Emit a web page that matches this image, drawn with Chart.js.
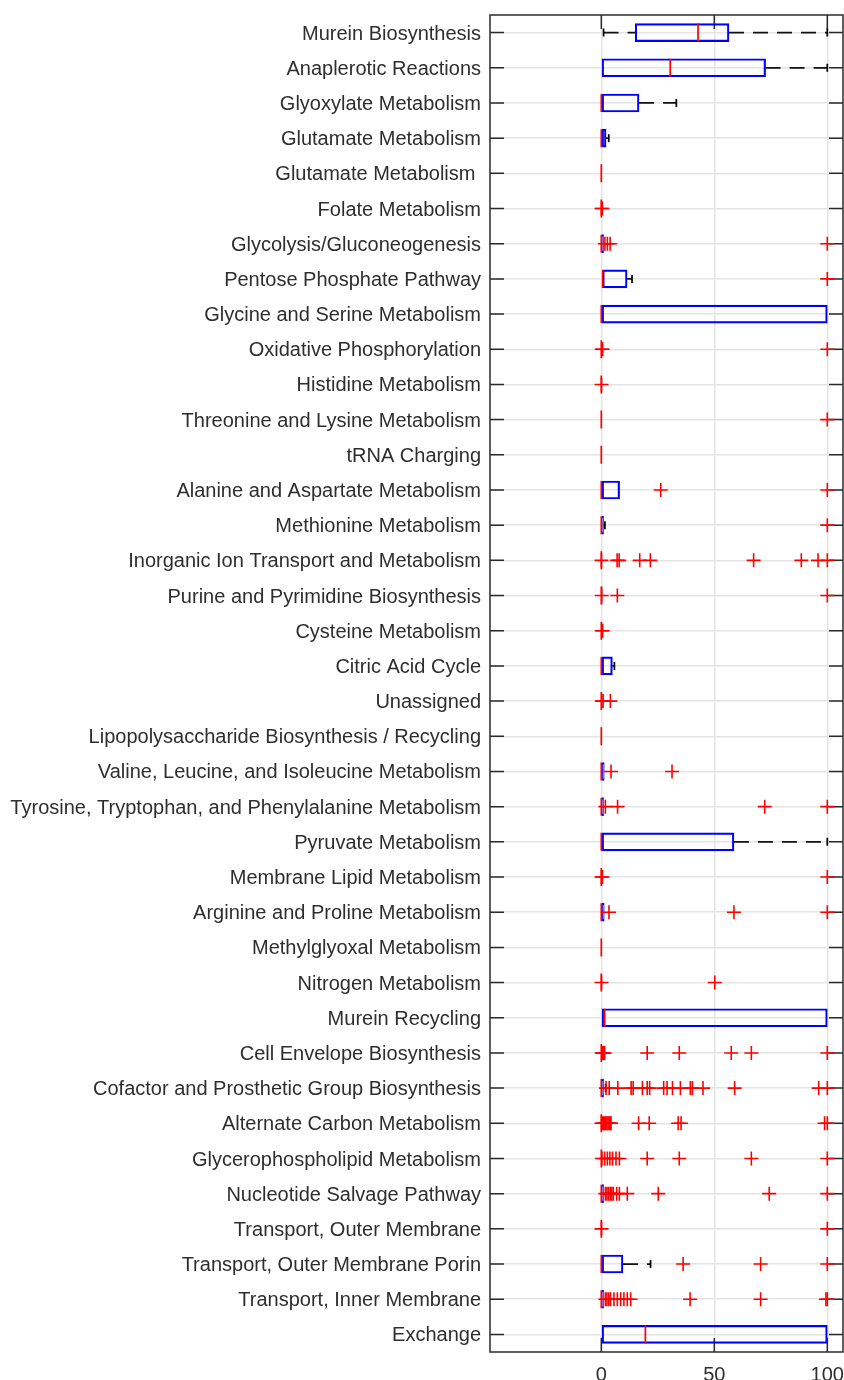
<!DOCTYPE html>
<html>
<head>
<meta charset="utf-8">
<script src="https://cdn.jsdelivr.net/npm/chart.js@4.4.1/dist/chart.umd.min.js"></script>
<style>
  html, body { margin: 0; padding: 0; background: #fff; }
  #wrap { width: 844px; height: 1380px; }
</style>
</head>
<body>
<div id="wrap"><canvas id="cv_box" width="844" height="1380"></canvas></div>
<script>
const categories = [
    'Murein Biosynthesis',
    'Anaplerotic Reactions',
    'Glyoxylate Metabolism',
    'Glutamate Metabolism',
    'Glutamate Metabolism ',
    'Folate Metabolism',
    'Glycolysis/Gluconeogenesis',
    'Pentose Phosphate Pathway',
    'Glycine and Serine Metabolism',
    'Oxidative Phosphorylation',
    'Histidine Metabolism',
    'Threonine and Lysine Metabolism',
    'tRNA Charging',
    'Alanine and Aspartate Metabolism',
    'Methionine Metabolism',
    'Inorganic Ion Transport and Metabolism',
    'Purine and Pyrimidine Biosynthesis',
    'Cysteine Metabolism',
    'Citric Acid Cycle',
    'Unassigned',
    'Lipopolysaccharide Biosynthesis / Recycling',
    'Valine, Leucine, and Isoleucine Metabolism',
    'Tyrosine, Tryptophan, and Phenylalanine Metabolism',
    'Pyruvate Metabolism',
    'Membrane Lipid Metabolism',
    'Arginine and Proline Metabolism',
    'Methylglyoxal Metabolism',
    'Nitrogen Metabolism',
    'Murein Recycling',
    'Cell Envelope Biosynthesis',
    'Cofactor and Prosthetic Group Biosynthesis',
    'Alternate Carbon Metabolism',
    'Glycerophospholipid Metabolism',
    'Nucleotide Salvage Pathway',
    'Transport, Outer Membrane',
    'Transport, Outer Membrane Porin',
    'Transport, Inner Membrane',
    'Exchange'
];

// box statistics, one entry per category
const whiskerLow  = [1, 0, 0, 0, 0, 0, 0, 0.6, 0, 0, 0, 0, 0, 0, 0, 0, 0, 0, 0, 0, 0, 0, 0, 0, 0, 0, 0, 0, 0, 0, 0, 0, 0, 0, 0, 0, 0, 0];
const q1          = [15, 0, 0, 0, 0, 0, 0, 0.6, 0, 0, 0, 0, 0, 0, 0, 0, 0, 0, 0, 0, 0, 0, 0, 0, 0, 0, 0, 0, 0, 0, 0, 0, 0, 0, 0, 0, 0, 0];
const medians     = [42.8, 30.5, 0, 0, 0, 0, 0, 0.6, 0, 0, 0, 0, 0, 0, 0, 0, 0, 0, 0, 0, 0, 0, 0, 0, 0, 0, 0, 0, 1.5, 0, 0, 0, 0, 0, 0, 0, 0, 19.5];
const q3          = [56.5, 72.7, 16.7, 2.1, 0, 0, 1, 11.4, 100, 0, 0, 0, 0, 8.1, 1, 0, 0.4, 0, 4.9, 0, 0, 1.3, 1, 58.7, 0, 1.3, 0, 0, 100, 0, 1, 0, 0, 1, 0, 9.6, 1, 100];
const whiskerHigh = [100, 100, 33.2, 3.3, 0, 0, 1, 13.6, 100, 0, 0, 0, 0, 8.1, 1.6, 0, 0.4, 0, 5.8, 0, 0, 1.3, 1, 100, 0, 1.3, 0, 0, 100, 0, 1.9, 0, 0, 1, 0, 21.8, 1, 100];

const outliers = [
    [],
    [],
    [],
    [],
    [],
    [0.1, 0.5],
    [1.6, 2.7, 3.9, 100],
    [100],
    [],
    [0.2, 0.6, 100],
    [0.1],
    [100],
    [],
    [26.3, 100],
    [100],
    [0.1, 7, 7.9, 17, 21.7, 67.4, 88.5, 95.9, 100],
    [0.2, 7.1, 100],
    [0.2, 0.6],
    [],
    [0.2, 0.8, 4],
    [],
    [4.3, 31.3],
    [1.8, 7.2, 72.3, 100],
    [],
    [0.1, 0.5, 100],
    [3.4, 58.7, 100],
    [],
    [0.1, 50.2],
    [],
    [0.2, 0.6, 1, 1.5, 20.3, 34.5, 57.5, 66.4, 100],
    [2.1, 3.5, 7.3, 13.2, 14.1, 18.2, 20.3, 21.4, 27.6, 29.1, 31.5, 35, 39.4, 40.3, 45, 59, 96.2, 100],
    [0.1, 0.5, 1, 1.5, 2, 2.5, 3, 3.5, 4, 4.3, 16.5, 21.2, 34, 35.3, 98.8, 100],
    [0.3, 1.5, 2.7, 3.8, 5, 6.5, 8, 20.3, 34.5, 66.4, 100],
    [1.8, 2.5, 3.2, 4, 4.6, 5.3, 6.8, 8, 11.5, 25.2, 74.3, 100],
    [0.1, 100],
    [36.2, 70.5, 100],
    [1.8, 2.5, 3.3, 4.1, 5.6, 7.1, 8.6, 10, 11.5, 13, 39.3, 70.5, 99.4, 100],
    []
];

const xTicks = [0, 50, 100];
const xMin = -49.25;
const xMax = 106.95;

const axisColor = '#2b2b2b';
const gridColor = '#e4e4e4';
const tickLen = 14;

Chart.defaults.font.family = "'Liberation Sans', Arial, sans-serif";
Chart.defaults.color = '#2e2e2e';

// floating bars for the boxes, skip the ones with no width
const boxData = categories.map((c, i) => q3[i] > q1[i] ? [q1[i], q3[i]] : null);

const whiskerPts = [];
const capPts = [];
categories.forEach((c, i) => {
    if (whiskerLow[i] < q1[i]) {
        whiskerPts.push({x: whiskerLow[i], y: c}, {x: q1[i], y: c}, {x: null, y: null});
        capPts.push({x: whiskerLow[i], y: c});
    }
    if (whiskerHigh[i] > q3[i]) {
        whiskerPts.push({x: q3[i], y: c}, {x: whiskerHigh[i], y: c}, {x: null, y: null});
        capPts.push({x: whiskerHigh[i], y: c});
    }
});

const medianPts = categories.map((c, i) => ({x: medians[i], y: c}));
const outlierPts = [];
outliers.forEach((list, i) => list.forEach(v => outlierPts.push({x: v, y: categories[i]})));

// frame round the plot with ticks pointing inwards
const framePlugin = {
    id: 'frame',
    beforeDatasetsDraw(chart) {
        const {ctx, chartArea: a, scales} = chart;
        ctx.save();
        ctx.strokeStyle = axisColor;
        ctx.lineWidth = 1.5;
        ctx.beginPath();
        scales.y.ticks.forEach((t, i) => {
            const p = scales.y.getPixelForTick(i);
            ctx.moveTo(a.left, p);
            ctx.lineTo(a.left + tickLen, p);
            ctx.moveTo(a.right, p);
            ctx.lineTo(a.right - tickLen, p);
        });
        scales.x.ticks.forEach((t, i) => {
            const p = scales.x.getPixelForTick(i);
            ctx.moveTo(p, a.top);
            ctx.lineTo(p, a.top + tickLen);
            ctx.moveTo(p, a.bottom);
            ctx.lineTo(p, a.bottom - tickLen);
        });
        ctx.stroke();
        ctx.strokeRect(a.left, a.top, a.right - a.left, a.bottom - a.top);
        ctx.restore();
    }
};

const chart_box = new Chart(document.getElementById('cv_box').getContext('2d'), {
    type: 'bar',
    data: {
        labels: categories,
        datasets: [
            {
                type: 'scatter',
                data: outlierPts,
                pointStyle: 'cross',
                pointRadius: 7,
                borderColor: '#ff0000',
                borderWidth: 1.6,
                order: 0
            },
            {
                type: 'scatter',
                data: medianPts,
                pointStyle: 'line',
                rotation: 90,
                pointRadius: 9,
                borderColor: '#ff0000',
                borderWidth: 1.7,
                order: 1
            },
            {
                type: 'bar',
                data: boxData,
                backgroundColor: 'rgba(0,0,0,0)',
                borderColor: '#0000ff',
                borderWidth: 1.5,
                borderSkipped: false,
                barThickness: 18,
                order: 2
            },
            {
                type: 'scatter',
                data: capPts,
                pointStyle: 'line',
                rotation: 90,
                pointRadius: 4,
                borderColor: '#000000',
                borderWidth: 1.7,
                order: 3
            },
            {
                type: 'scatter',
                data: whiskerPts,
                showLine: true,
                spanGaps: false,
                pointRadius: 0,
                borderColor: '#111111',
                borderWidth: 1.8,
                borderDash: [15, 9],
                order: 4
            }
        ]
    },
    options: {
        indexAxis: 'y',
        responsive: false,
        animation: false,
        events: [],
        layout: {autoPadding: false, padding: {top: 15, right: 1, bottom: 0, left: 0}},
        plugins: {
            legend: {display: false},
            tooltip: {enabled: false}
        },
        scales: {
            x: {
                type: 'linear',
                min: xMin,
                max: xMax,
                afterBuildTicks: s => { s.ticks = xTicks.map(v => ({value: v})); },
                afterFit: s => { s.height = 28; s.paddingLeft = 0; s.paddingRight = 0; },
                border: {display: false},
                grid: {color: gridColor, lineWidth: 1.5, drawTicks: false},
                ticks: {padding: 11, font: {size: 20}}
            },
            y: {
                type: 'category',
                labels: categories,
                offset: true,
                afterFit: s => { s.width = 490; s.paddingTop = 0; s.paddingBottom = 0; },
                border: {display: false},
                grid: {color: gridColor, lineWidth: 1.5, drawTicks: false, offset: false},
                ticks: {autoSkip: false, padding: 9, labelOffset: 1.5, font: {size: 20}}
            }
        }
    },
    plugins: [framePlugin]
});
</script>
</body>
</html>
